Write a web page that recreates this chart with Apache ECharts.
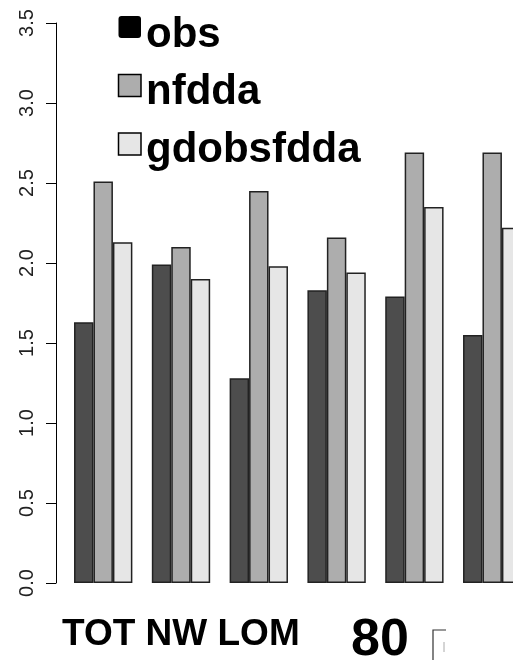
<!DOCTYPE html>
<html>
<head>
<meta charset="utf-8">
<script src="https://cdn.jsdelivr.net/npm/echarts@6/dist/echarts.min.js"></script>
<style>
html,body{margin:0;padding:0;background:#fff;}
#chart{width:513px;height:660px;}
</style>
</head>
<body>
<div id="chart"></div>
<script>
const categories = ['G1', 'G2', 'G3', 'G4', 'G5', 'G6'];
const seriesNames = ['obs', 'nfdda', 'gdobsfdda'];
const obs = [1.63, 1.99, 1.28, 1.83, 1.79, 1.55];
const nfdda = [2.51, 2.10, 2.45, 2.16, 2.69, 2.69];
const gdobsfdda = [2.13, 1.90, 1.98, 1.94, 2.35, 2.22];
const yTicks = [0, 3.5, 0.5];

const chart = echarts.init(document.getElementById('chart'), null, {renderer: 'canvas'});
const barBorder = {borderColor: '#222', borderWidth: 1.5};
const FONT = 'Liberation Sans, Arial, sans-serif';
const barColors = ['#4d4d4d', '#adadad', '#e6e6e6'];
const legendFill = ['#000', '#adadad', '#e6e6e6'];
const seriesData = [obs, nfdda, gdobsfdda];

// manual legend (icon sits above the text centre, as in the reference)
const legendGraphic = [];
seriesNames.forEach((name, i) => {
  const iconTop = 16 + i * 58.5;
  legendGraphic.push({
    type: 'rect', shape: {x: 118.5, y: iconTop, width: 22.5, height: 22, r: i === 0 ? 3 : 0},
    style: {fill: legendFill[i], stroke: i === 0 ? null : '#000', lineWidth: 1.5}
  });
  legendGraphic.push({
    type: 'text', x: 146, y: 35 + i * 57.5,
    style: {text: name, font: 'bold 42px ' + FONT, fill: '#000', textVerticalAlign: 'middle', verticalAlign: 'middle'}
  });
});

const option = {
  backgroundColor: '#fff',
  animation: false,
  grid: {left: 64.3, top: 23, width: 466.8, bottom: 77, containLabel: false, outerBoundsMode: 'none'},
  xAxis: {
    type: 'category', data: categories,
    axisLine: {show: false}, axisTick: {show: false}, axisLabel: {show: false}, splitLine: {show: false}
  },
  yAxis: {
    type: 'value', min: yTicks[0], max: yTicks[1], interval: yTicks[2], offset: 8.3,
    axisLine: {show: true, lineStyle: {color: '#000', width: 1}},
    axisTick: {show: true, length: 10, lineStyle: {color: '#000', width: 1}},
    splitLine: {show: false},
    axisLabel: {
      rotate: 90, margin: 19, color: '#222', fontSize: 20, fontFamily: FONT,
      formatter: v => v.toFixed(1)
    }
  },
  series: seriesNames.map((name, i) => ({
    name: name, type: 'bar', data: seriesData[i], barWidth: 19.45, barGap: '0%',
    itemStyle: Object.assign({color: barColors[i]}, barBorder)
  })),
  title: [
    {text: 'TOT NW LOM', left: 62, top: 616, padding: 0,
     textStyle: {fontSize: 37, fontWeight: 'bold', color: '#000', fontFamily: FONT}},
    {text: '80', left: 351, top: 615, padding: 0,
     textStyle: {fontSize: 52, fontWeight: 'bold', color: '#000', fontFamily: FONT}}
  ],
  graphic: legendGraphic.concat([
    {type: 'polyline', shape: {points: [[433, 662], [433, 630], [446, 630]]}, style: {stroke: '#333', lineWidth: 1.2, fill: null}},
    {type: 'line', shape: {x1: 444, y1: 642, x2: 444, y2: 652}, style: {stroke: '#aaa', lineWidth: 1}}
  ])
};
chart.setOption(option);
</script>
</body>
</html>
